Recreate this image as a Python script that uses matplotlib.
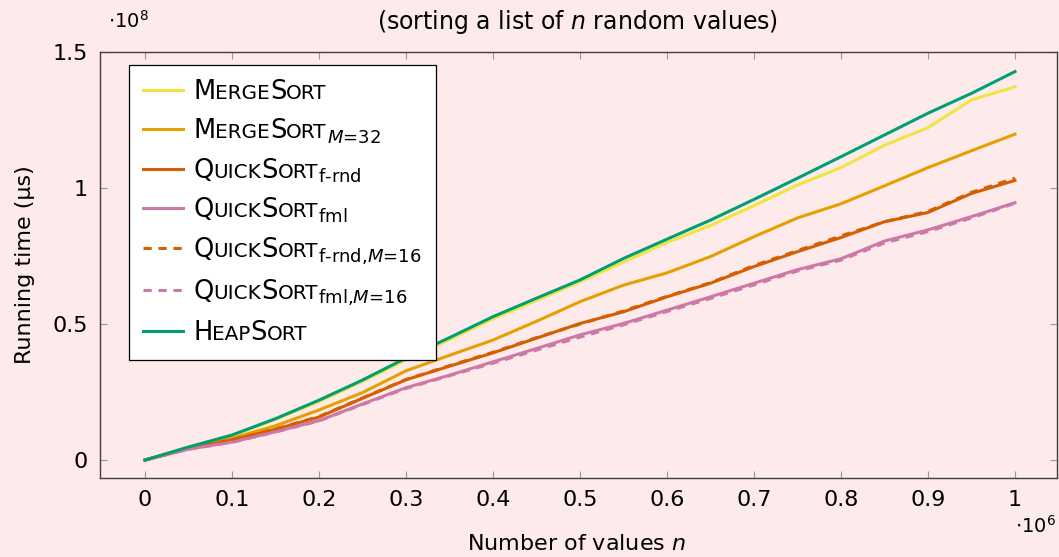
import matplotlib
matplotlib.use("Agg")
import matplotlib.pyplot as plt
from matplotlib.lines import Line2D
from matplotlib.offsetbox import TextArea, HPacker
from matplotlib.ticker import FixedLocator, FuncFormatter

# ---------------- data (n in units of 1e6, time in units of 1e8 µs) ----------------
n_values = [0.00, 0.05, 0.10, 0.15, 0.20, 0.25, 0.30, 0.35, 0.40, 0.45, 0.50,
            0.55, 0.60, 0.65, 0.70, 0.75, 0.80, 0.85, 0.90, 0.95, 1.00]

merge_sort = [0, 0.047, 0.090, 0.149, 0.215, 0.289, 0.368, 0.443, 0.519, 0.587, 0.655,
              0.728, 0.800, 0.862, 0.935, 1.011, 1.075, 1.157, 1.222, 1.324, 1.372]
merge_sort_m32 = [0, 0.044, 0.080, 0.126, 0.184, 0.248, 0.328, 0.385, 0.441, 0.510, 0.582,
                  0.643, 0.688, 0.748, 0.821, 0.890, 0.942, 1.008, 1.075, 1.137, 1.198]
quick_frnd = [0, 0.042, 0.074, 0.113, 0.158, 0.227, 0.295, 0.345, 0.394, 0.448, 0.502,
              0.545, 0.600, 0.650, 0.711, 0.766, 0.818, 0.876, 0.910, 0.980, 1.028]
quick_fml = [0, 0.040, 0.066, 0.104, 0.145, 0.206, 0.266, 0.312, 0.361, 0.410, 0.460,
             0.502, 0.551, 0.600, 0.650, 0.700, 0.740, 0.805, 0.846, 0.895, 0.946]
quick_frnd_m16 = [0, 0.042, 0.075, 0.114, 0.160, 0.228, 0.296, 0.347, 0.396, 0.450, 0.500,
                  0.548, 0.602, 0.652, 0.715, 0.770, 0.824, 0.876, 0.914, 0.984, 1.036]
quick_fml_m16 = [0, 0.040, 0.065, 0.103, 0.144, 0.204, 0.263, 0.310, 0.356, 0.404, 0.452,
                 0.497, 0.546, 0.594, 0.644, 0.695, 0.735, 0.798, 0.840, 0.890, 0.944]
heap_sort = [0, 0.048, 0.092, 0.152, 0.220, 0.294, 0.375, 0.450, 0.527, 0.595, 0.662,
             0.741, 0.812, 0.882, 0.958, 1.036, 1.115, 1.195, 1.275, 1.348, 1.428]

series_names = ["MergeSort", "MergeSort", "QuickSort", "QuickSort",
                "QuickSort", "QuickSort", "HeapSort"]
series_subs = ["", r"${}_{M\text{=32}}$", r"${}_{\text{f-rnd}}$", r"${}_{\text{fml}}$",
               r"${}_{\text{f-rnd,}M\text{=16}}$", r"${}_{\text{fml,}M\text{=16}}$", ""]
series_values = [merge_sort, merge_sort_m32, quick_frnd, quick_fml,
                 quick_frnd_m16, quick_fml_m16, heap_sort]
series_colors = ["#f0e442", "#e69f00", "#d55e00", "#cc79a7", "#d55e00", "#cc79a7", "#009e73"]
series_dashed = [False, False, False, False, True, True, False]

x_ticks = [0, 0.1, 0.2, 0.3, 0.4, 0.5, 0.6, 0.7, 0.8, 0.9, 1.0]
y_ticks = [0, 0.5, 1.0, 1.5]

title_text = "(sorting a list of $n$ random values)"
x_label = "Number of values $n$"
y_label = "Running time (µs)"

# ---------------- style ----------------
FONT = "DejaVu Sans"
plt.rcParams["font.family"] = [FONT]
plt.rcParams["mathtext.fontset"] = "dejavusans"

BG = "#fdeaea"
FS = 16
LFS = 18.5
SC = 0.78
DASH = (0, (2.7, 2.2))

fig = plt.figure(figsize=(10.59, 5.57), dpi=100, facecolor=BG)
ax = fig.add_axes([100 / 1059, 1 - 478 / 557, 957 / 1059, 426 / 557])
ax.set_facecolor(BG)

handles = []
for vals, col, dashed in zip(series_values, series_colors, series_dashed):
    ln, = ax.plot(n_values, vals, color=col, lw=2.2,
                  linestyle=DASH if dashed else "-",
                  solid_joinstyle="round")
    handles.append(ln)

ax.set_xlim(-0.0517, 1.0483)
ax.set_ylim(-0.066, 1.5)
ax.xaxis.set_major_locator(FixedLocator(x_ticks))
ax.yaxis.set_major_locator(FixedLocator(y_ticks))
fmt = FuncFormatter(lambda v, p: f"{v:g}")
ax.xaxis.set_major_formatter(fmt)
ax.yaxis.set_major_formatter(fmt)
ax.tick_params(direction="in", length=5, width=0.8, color="#9a9a9a",
               top=True, right=True, labelsize=FS, pad=9)
for sp in ax.spines.values():
    sp.set_color("#404040")
    sp.set_linewidth(1.0)

fig.text(577 / 1059, 1 - 544 / 557, x_label, fontsize=FS, ha="center", va="center")
ax.set_ylabel(y_label, fontsize=FS)
ax.yaxis.set_label_coords(-0.068, 0.5)

fig.text(578 / 1059, 1 - 22 / 557, title_text, fontsize=17, ha="center", va="center")
fig.text(108 / 1059, 1 - 21 / 557, r"$\cdot10^{8}$", fontsize=14, ha="left", va="center")
fig.text(1015 / 1059, 1 - 526 / 557, r"$\cdot10^{6}$", fontsize=14, ha="left", va="center")

# ---------------- legend with small caps labels ----------------
legend_handles = []
for h, dashed in zip(handles, series_dashed):
    legend_handles.append(Line2D([], [], color=h.get_color(), lw=2.2,
                                 linestyle=DASH if dashed else "-"))
plain_labels = [n + s for n, s in zip(series_names, series_subs)]
leg = ax.legend(legend_handles, plain_labels, loc="upper left",
                bbox_to_anchor=(29 / 957, (478 - 65) / 426), borderaxespad=0,
                fontsize=LFS, frameon=True, fancybox=False, framealpha=1,
                edgecolor="black", facecolor="white", borderpad=0.55,
                handlelength=1.55, handletextpad=0.4, labelspacing=0.51)
leg.get_frame().set_linewidth(0.9)


def small_caps_box(name, sub):
    parts = []
    cur, big = "", None
    for ch in name:
        is_big = ch.isupper()
        if big is None or is_big == big:
            cur += ch
        else:
            parts.append((cur, big))
            cur = ch
        big = is_big
    parts.append((cur, big))
    kids = []
    for txt, b in parts:
        kids.append(TextArea(txt.upper(),
                             textprops=dict(fontsize=LFS * (1.0 if b else SC), color="black")))
    if sub:
        kids.append(TextArea(sub, textprops=dict(fontsize=LFS, color="black")))
    return HPacker(children=kids, align="baseline", pad=0, sep=0)


columns = leg._legend_handle_box.get_children()
items = [it for col in columns for it in col.get_children()]
for item, name, sub in zip(items, series_names, series_subs):
    box = small_caps_box(name, sub)
    box.set_figure(fig)
    item._children[1] = box

fig.savefig("out.png", dpi=100, facecolor=BG)
